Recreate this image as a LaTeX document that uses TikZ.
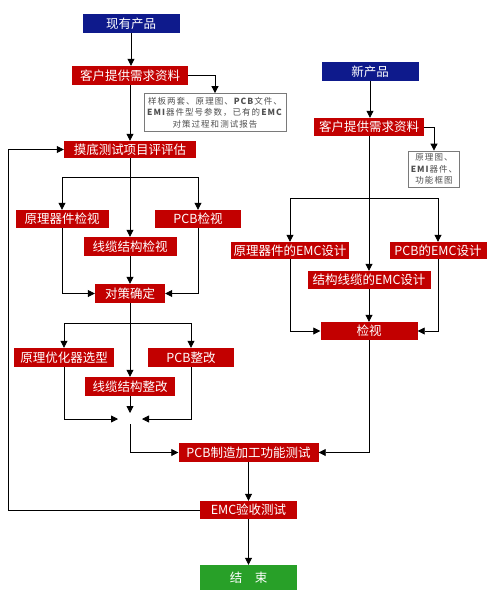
\documentclass[tikz,border=0pt]{standalone}
\usepackage{fontspec}
\newfontfamily\cjk{Noto Sans CJK SC}
\newfontfamily\cjknote[LetterSpace=12]{Noto Sans CJK SC}
\usetikzlibrary{arrows.meta,positioning,calc}
\definecolor{fcRed}{HTML}{C20000}
\definecolor{fcBlue}{HTML}{0E1A8C}
\definecolor{fcGreen}{HTML}{28A028}
\definecolor{fcGray}{HTML}{7A7A7A}
\definecolor{fcText}{HTML}{505050}
\tikzset{
  box/.style={inner sep=0pt, minimum height=19pt, text=white, font=\cjk\fontsize{12.5}{13}\selectfont, align=center},
  boxR/.style={box, fill=fcRed},
  boxB/.style={box, fill=fcBlue},
  boxG/.style={box, fill=fcGreen, minimum height=25pt},
  note/.style={draw=fcGray, fill=white, line width=0.8pt, inner sep=2pt, text=fcText, font=\cjknote\fontsize{8.5}{11.5}\selectfont, align=center},
  arr/.style={-{Triangle[length=7pt,width=7pt]}, line width=0.8pt, draw=black},
  ln/.style={line width=0.8pt, draw=black},
}
\begin{document}
\begin{tikzpicture}[x=1pt,y=1pt]
  \useasboundingbox[fill=white] (0,0) rectangle (488,-603);
  % left: existing product
  \node[boxB, minimum width=97pt] (xianyou) at (131,-23.5) {现有产品};
  \node[boxR, minimum width=116pt] (kehuL) at (130,-75.5) {客户提供需求资料};
  \node[note, minimum width=142pt, minimum height=38pt] (noteL) at (215,-112.5) {样板两套、原理图、\textbf{PCB}文件、\\\textbf{EMI}器件型号参数，已有的\textbf{EMC}\\对策过程和测试报告};
  \node[boxR, minimum width=132pt, minimum height=17pt] (modi) at (130,-149.5) {摸底测试项目评评估};
  \node[boxR, minimum width=93pt, minimum height=18pt] (yljL) at (62,-219) {原理器件检视};
  \node[boxR, minimum width=86pt, minimum height=18pt] (pcbL) at (198,-219) {PCB检视};
  \node[boxR, minimum width=93pt] (xlL) at (130,-246.5) {线缆结构检视};
  \node[boxR, minimum width=70pt] (duice) at (130,-293.5) {对策确定};
  \node[boxR, minimum width=100pt] (yuanyh) at (64,-357.5) {原理优化器选型};
  \node[boxR, minimum width=86pt] (pcbzg) at (191,-357.5) {PCB整改};
  \node[boxR, minimum width=90pt] (xlzg) at (130,-386.5) {线缆结构整改};
  \coordinate (hub) at (130,-419);
  \coordinate (brA) at (130,-177);
  \coordinate (brC) at (130,-323);
  \coordinate (lp) at (8,0);
  % right: new product
  \node[boxB, minimum width=97pt] (xin) at (370,-71.5) {新产品};
  \node[boxR, minimum width=110pt, minimum height=18pt] (kehuR) at (369,-127) {客户提供需求资料};
  \node[note, minimum width=47pt, minimum height=36pt] (noteR) at (434,-169) {原理图、\\\textbf{EMI}器件、\\功能框图};
  \node[boxR, minimum width=118pt, minimum height=17pt] (yljR) at (290,-250.5) {原理器件的EMC设计};
  \node[boxR, minimum width=97pt, minimum height=17pt] (pcbR) at (438,-250.5) {PCB的EMC设计};
  \node[boxR, minimum width=123pt, minimum height=18pt] (jgR) at (369,-280) {结构线缆的EMC设计};
  \node[boxR, minimum width=97pt, minimum height=18pt] (jianshi) at (369,-331) {检视};
  \coordinate (brB) at (369,-198);
  % bottom
  \node[boxR, minimum width=140pt] (pcbzz) at (248.5,-452.5) {PCB制造加工功能测试};
  \node[boxR, minimum width=97pt, minimum height=18pt] (emcys) at (248.5,-510) {EMC验收测试};
  \node[boxG, minimum width=97pt] (jieshu) at (248.5,-577.5) {结\hspace{1em}束};
  % connectors, left
  \draw[arr] (xianyou.south) -- (xianyou.south |- kehuL.north);
  \draw[arr] (kehuL.east) -| (noteL.north);
  \draw[arr] (kehuL.south) -- (modi.north);
  \draw[ln] (modi.south) -- (brA);
  \draw[arr] (brA) -| (yljL.north);
  \draw[arr] (brA) -| (pcbL.north);
  \draw[arr] (brA) -- (xlL.north);
  \draw[arr] (yljL.south) |- (duice.west);
  \draw[arr] (pcbL.south) |- (duice.east);
  \draw[arr] (xlL.south) -- (duice.north);
  \draw[ln] (duice.south) -- (brC);
  \draw[arr] (brC) -| (yuanyh.north);
  \draw[arr] (brC) -| (pcbzg.north);
  \draw[arr] (brC) -- (xlzg.north);
  \draw[arr] (yuanyh.south) |- ([xshift=-12pt]hub);
  \draw[arr] (pcbzg.south) |- ([xshift=12pt]hub);
  \draw[arr] (xlzg.south) -- ([yshift=6pt]hub);
  \draw[arr] ([yshift=-5pt]hub) |- (pcbzz.west);
  \draw[arr] (emcys.west) -| (lp |- modi.west) -- (modi.west);
  % connectors, right
  \draw[arr] (xin.south) -- (xin.south |- kehuR.north);
  \draw[arr] (kehuR.east) -| (noteR.north);
  \draw[ln] (kehuR.south) -- (brB);
  \draw[arr] (brB) -| (yljR.north);
  \draw[arr] (brB) -| (pcbR.north);
  \draw[arr] (brB) -- (jgR.north);
  \draw[arr] (yljR.south) |- (jianshi.west);
  \draw[arr] (pcbR.south) |- (jianshi.east);
  \draw[arr] (jgR.south) -- (jianshi.north);
  \draw[arr] (jianshi.south) |- (pcbzz.east);
  % bottom
  \draw[arr] (pcbzz.south) -- (emcys.north);
  \draw[arr] (emcys.south) -- (jieshu.north);
\end{tikzpicture}
\end{document}
